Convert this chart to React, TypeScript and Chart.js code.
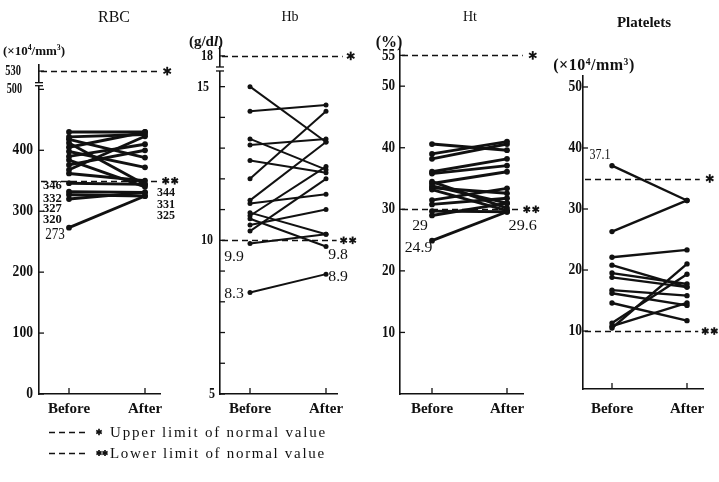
import React, { useEffect, useRef } from 'react';
import { Chart, registerables } from 'chart.js';

Chart.register(...registerables);

// ---------------- data ----------------
const phases = ['Before', 'After'];

const rbcBefore = [430, 422, 418, 412, 405, 398, 390, 384, 376, 368, 362, 346, 332, 327, 320, 273];
const rbcAfter = [430, 426, 388, 344, 430, 372, 410, 340, 400, 423, 350, 344, 331, 325, 331, 325];
const rbcTicks = [0, 100, 200, 300, 400, 500, 530];
const rbcNormal = [530, 350];

const hbBefore = [15.0, 14.2, 13.3, 13.1, 12.6, 12.0, 11.3, 11.2, 10.9, 10.8, 10.7, 10.5, 10.3, 9.9, 8.3];
const hbAfter = [13.2, 14.4, 12.3, 13.3, 12.2, 14.2, 13.2, 11.5, 10.2, 12.4, 9.8, 11.0, 12.0, 10.2, 8.9];
const hbTicks = [5, 10, 15, 18];
const hbMinorTicks = [6, 7, 8, 9, 11, 12, 13, 14];
const hbNormal = [18, 10];

const htBefore = [40.6, 39.0, 38.2, 36.1, 35.8, 34.5, 34.2, 33.8, 33.5, 33.2, 31.5, 30.8, 29.7, 29.0, 24.9];
const htAfter = [39.6, 41.0, 40.6, 38.2, 37.1, 30.2, 36.1, 31.0, 32.6, 29.8, 33.4, 31.8, 29.6, 31.0, 29.6];
const htTicks = [10, 20, 30, 40, 50, 55];
const htNormal = [55, 30];

const pltBefore = [37.1, 26.3, 22.1, 20.8, 19.5, 18.8, 16.7, 16.2, 14.6, 11.3, 10.5, 10.8];
const pltAfter = [31.4, 31.4, 23.3, 17.2, 17.7, 17.2, 15.8, 14.2, 11.7, 19.3, 21.0, 14.6];
const pltTicks = [10, 20, 30, 40, 50];
const pltNormal = [35, 10];

// ---------------- helpers ----------------
const ident = (v: number) => v;
// Hb axis is broken above 15 (18 is drawn just above 15)
const hbAxis = (v: number) => (v <= 15 ? v : 15 + (v - 15) / 3);

const SERIF = '"Liberation Serif", "Times New Roman", serif';
const INK = '#111';

interface Note { text: string; x: number; y: number; align: CanvasTextAlign; font: string; sx: number }
interface Limit { value: number; end: number; stars: number; dx: number }
interface TickStyle { gap?: number; font?: string; sx?: number }
interface PanelDef {
  left: number; width: number;
  axisPx: number; beforePx: number; afterPx: number; rightPx: number;
  top: number; bottom: number;
  yMin: number; yMax: number;
  before: number[]; after: number[];
  map: (v: number) => number;
  ticks: number[]; minor: number[];
  tickFont: string; tickSx: number; tickGap: number; tickOverride?: Record<number, TickStyle>;
  limits: Limit[];
  notes: Note[];
  breakMarks?: [number, number];
  lineWidth: number;
  pointRadius: number;
}

function drawText(ctx: CanvasRenderingContext2D, s: string, x: number, y: number, align: CanvasTextAlign, font: string, sx: number) {
  ctx.save();
  ctx.translate(x, y);
  ctx.scale(sx, 1);
  ctx.font = font;
  ctx.textAlign = align;
  ctx.textBaseline = 'middle';
  ctx.fillStyle = INK;
  ctx.fillText(s, 0, 0);
  ctx.restore();
}

function drawStar(ctx: CanvasRenderingContext2D, cx: number, cy: number, r: number) {
  ctx.save();
  ctx.setLineDash([]);
  ctx.strokeStyle = INK;
  ctx.lineWidth = 1.9;
  [90, 30, 150].forEach((deg) => {
    const a = (deg * Math.PI) / 180;
    ctx.beginPath();
    ctx.moveTo(cx - r * Math.cos(a), cy - r * Math.sin(a));
    ctx.lineTo(cx + r * Math.cos(a), cy + r * Math.sin(a));
    ctx.stroke();
  });
  ctx.restore();
}

function makeDeco(def: PanelDef) {
  return {
    id: 'deco',
    beforeDatasetsDraw(chart: any) {
      const { ctx, chartArea } = chart;
      const x = chart.scales.x;
      const y = chart.scales.y;
      ctx.save();
      ctx.strokeStyle = INK;
      ctx.lineWidth = 1.5;
      ctx.setLineDash([6, 4]);
      def.limits.forEach((l) => {
        const py = Math.round(y.getPixelForValue(def.map(l.value))) + 0.5;
        ctx.beginPath();
        ctx.moveTo(chartArea.left + 2, py);
        ctx.lineTo(x.getPixelForValue(l.end), py);
        ctx.stroke();
      });
      ctx.restore();
    },
    afterDraw(chart: any) {
      const { ctx, chartArea } = chart;
      const x = chart.scales.x;
      const y = chart.scales.y;
      ctx.save();
      ctx.strokeStyle = INK;
      ctx.lineWidth = 1.3;
      // y tick marks
      [...def.ticks, ...def.minor].forEach((v) => {
        const py = y.getPixelForValue(def.map(v));
        ctx.beginPath();
        ctx.moveTo(chartArea.left - 1, py);
        ctx.lineTo(chartArea.left + 5, py);
        ctx.stroke();
      });
      // y tick labels
      def.ticks.forEach((v) => {
        const py = y.getPixelForValue(def.map(v));
        const o = (def.tickOverride && def.tickOverride[v]) || {};
        const gap = o.gap !== undefined ? o.gap : def.tickGap;
        drawText(ctx, String(v), chartArea.left - gap, py, 'right', o.font || def.tickFont, o.sx || def.tickSx);
      });
      // x tick marks and labels
      phases.forEach((p, i) => {
        const px = x.getPixelForValue(i);
        ctx.beginPath();
        ctx.moveTo(px, chartArea.bottom);
        ctx.lineTo(px, chartArea.bottom - 6);
        ctx.stroke();
        drawText(ctx, p, px, 409, 'center', `bold 15px ${SERIF}`, 1);
      });
      // stars at end of normal-limit lines
      def.limits.forEach((l) => {
        const py = y.getPixelForValue(def.map(l.value));
        const ex = x.getPixelForValue(l.end);
        for (let k = 0; k < l.stars; k++) drawStar(ctx, ex + l.dx + k * 9, py, l.stars === 1 ? 4.3 : 3.8);
      });
      // annotations
      def.notes.forEach((n) => {
        drawText(ctx, n.text, x.getPixelForValue(n.x), y.getPixelForValue(def.map(n.y)), n.align, n.font, n.sx);
      });
      // axis break marks
      if (def.breakMarks) {
        const a = y.getPixelForValue(def.breakMarks[0]);
        const b = y.getPixelForValue(def.breakMarks[1]);
        ctx.fillStyle = '#fff';
        ctx.fillRect(chartArea.left - 4, a, 8, b - a);
        ctx.lineWidth = 1.3;
        [a, b].forEach((py) => {
          ctx.beginPath();
          ctx.moveTo(chartArea.left - 4, py);
          ctx.lineTo(chartArea.left + 4, py);
          ctx.stroke();
        });
      }
      ctx.restore();
    },
  };
}

function buildConfig(def: PanelDef): any {
  const unit = def.afterPx - def.beforePx;
  const xMin = (def.axisPx - def.beforePx) / unit;
  const xMax = (def.rightPx - def.beforePx) / unit;
  const border = { display: true, color: INK, width: 1.6 };
  return {
    type: 'line',
    data: {
      datasets: def.before.map((b, i) => ({
        data: [
          { x: 0, y: def.map(b) },
          { x: 1, y: def.map(def.after[i]) },
        ],
        borderColor: INK,
        backgroundColor: INK,
        borderWidth: def.lineWidth,
        pointRadius: def.pointRadius,
        pointBorderWidth: 0,
        pointBackgroundColor: INK,
        tension: 0,
      })),
    },
    options: {
      animation: false,
      responsive: false,
      devicePixelRatio: 1,
      layout: {
        padding: {
          left: 0,
          right: def.left + def.width - def.rightPx,
          top: def.top,
          bottom: 482 - def.bottom - 30,
        },
      },
      plugins: { legend: { display: false }, tooltip: { enabled: false } },
      scales: {
        x: {
          type: 'linear', min: xMin, max: xMax,
          ticks: { display: false }, grid: { display: false, drawTicks: false }, border,
          afterFit: (s: any) => { s.height = 30; },
        },
        y: {
          type: 'linear', min: def.yMin, max: def.yMax,
          ticks: { display: false }, grid: { display: false, drawTicks: false }, border,
          afterFit: (s: any) => { s.width = def.axisPx - def.left; },
        },
      },
    },
    plugins: [makeDeco(def)],
  };
}

// ---------------- panels ----------------
const smallBold = `bold 12px ${SERIF}`;

const rbcDef: PanelDef = {
  left: 0, width: 185, axisPx: 39, beforePx: 69, afterPx: 145, rightPx: 160,
  top: 65, bottom: 394, yMin: 0, yMax: 540,
  before: rbcBefore, after: rbcAfter, map: ident,
  ticks: rbcTicks, minor: [],
  tickFont: `bold 16px ${SERIF}`, tickSx: 0.85, tickGap: 6,
  tickOverride: {
    500: { gap: 17, font: `bold 15px ${SERIF}`, sx: 0.68 },
    530: { gap: 18, font: `bold 15px ${SERIF}`, sx: 0.7 },
  },
  limits: [
    { value: rbcNormal[0], end: 1.2, stars: 1, dx: 7 },
    { value: rbcNormal[1], end: 1.18, stars: 2, dx: 7 },
  ],
  notes: [
    { text: '346', x: -0.095, y: 341, align: 'right', font: smallBold, sx: 1.05 },
    { text: '332', x: -0.095, y: 321, align: 'right', font: smallBold, sx: 1.05 },
    { text: '327', x: -0.095, y: 303, align: 'right', font: smallBold, sx: 1.05 },
    { text: '320', x: -0.095, y: 285, align: 'right', font: smallBold, sx: 1.05 },
    { text: '273', x: -0.055, y: 261, align: 'right', font: `16px ${SERIF}`, sx: 0.82 },
    { text: '344', x: 1.158, y: 329.5, align: 'left', font: smallBold, sx: 1.0 },
    { text: '331', x: 1.158, y: 310, align: 'left', font: smallBold, sx: 1.0 },
    { text: '325', x: 1.158, y: 292, align: 'left', font: smallBold, sx: 1.0 },
  ],
  breakMarks: [511, 506],
  lineWidth: 2.9,
  pointRadius: 2.9,
};

const hbDef: PanelDef = {
  left: 185, width: 180, axisPx: 220, beforePx: 250, afterPx: 326, rightPx: 337,
  top: 47, bottom: 394, yMin: 5, yMax: 16.29,
  before: hbBefore, after: hbAfter, map: hbAxis,
  ticks: hbTicks, minor: hbMinorTicks,
  tickFont: `bold 15px ${SERIF}`, tickSx: 0.8, tickGap: 7,
  tickOverride: { 15: { gap: 11 }, 5: { gap: 5 } },
  limits: [
    { value: hbNormal[0], end: 1.22, stars: 1, dx: 8 },
    { value: hbNormal[1], end: 1.14, stars: 2, dx: 7 },
  ],
  notes: [
    { text: '9.9', x: -0.34, y: 9.46, align: 'left', font: `15px ${SERIF}`, sx: 1.05 },
    { text: '8.3', x: -0.34, y: 8.25, align: 'left', font: `15px ${SERIF}`, sx: 1.05 },
    { text: '9.8', x: 1.03, y: 9.52, align: 'left', font: `15px ${SERIF}`, sx: 1.05 },
    { text: '8.9', x: 1.03, y: 8.81, align: 'left', font: `15px ${SERIF}`, sx: 1.05 },
  ],
  breakMarks: [15.64, 15.51],
  lineWidth: 2.0,
  pointRadius: 2.5,
};

const htDef: PanelDef = {
  left: 365, width: 180, axisPx: 400, beforePx: 432, afterPx: 507, rightPx: 523,
  top: 48, bottom: 394, yMin: 0, yMax: 56.2,
  before: htBefore, after: htAfter, map: ident,
  ticks: htTicks, minor: [],
  tickFont: `bold 16px ${SERIF}`, tickSx: 0.82, tickGap: 5,
  limits: [
    { value: htNormal[0], end: 1.21, stars: 1, dx: 10 },
    { value: htNormal[1], end: 1.17, stars: 2, dx: 7 },
  ],
  notes: [
    { text: '29', x: -0.16, y: 27.2, align: 'center', font: `15px ${SERIF}`, sx: 1.05 },
    { text: '24.9', x: -0.18, y: 23.7, align: 'center', font: `15px ${SERIF}`, sx: 1.05 },
    { text: '29.6', x: 1.21, y: 27.2, align: 'center', font: `15px ${SERIF}`, sx: 1.08 },
  ],
  lineWidth: 2.9,
  pointRadius: 2.9,
};

const pltDef: PanelDef = {
  left: 545, width: 174, axisPx: 583, beforePx: 612, afterPx: 687, rightPx: 703,
  top: 76, bottom: 389, yMin: 0.5, yMax: 51.8,
  before: pltBefore, after: pltAfter, map: ident,
  ticks: pltTicks, minor: [],
  tickFont: `bold 16px ${SERIF}`, tickSx: 0.85, tickGap: 1,
  limits: [
    { value: pltNormal[0], end: 1.17, stars: 1, dx: 10 },
    { value: pltNormal[1], end: 1.15, stars: 2, dx: 7 },
  ],
  notes: [
    { text: '37.1', x: -0.16, y: 38.86, align: 'center', font: `15px ${SERIF}`, sx: 0.8 },
  ],
  lineWidth: 2.4,
  pointRadius: 2.7,
};

const panels = [rbcDef, hbDef, htDef, pltDef];

// ---------------- components ----------------
function Panel({ def }: { def: PanelDef }) {
  const ref = useRef<HTMLCanvasElement>(null);
  useEffect(() => {
    const c = ref.current;
    if (!c) return;
    const chart = new Chart(c, buildConfig(def));
    return () => chart.destroy();
  }, [def]);
  return (
    <canvas
      ref={ref}
      width={def.width}
      height={482}
      style={{ position: 'absolute', left: def.left, top: 0, width: def.width, height: 482 }}
    />
  );
}

function Label(props: { x: number; y: number; size: number; bold?: boolean; ls?: number; children: React.ReactNode }) {
  return (
    <div
      style={{
        position: 'absolute', left: props.x, top: props.y, transform: 'translate(-50%, -50%)',
        fontFamily: SERIF, fontSize: props.size, fontWeight: props.bold ? 700 : 400,
        letterSpacing: props.ls || 0, whiteSpace: 'nowrap', lineHeight: 1, color: INK,
      }}
    >
      {props.children}
    </div>
  );
}

const supStyle: React.CSSProperties = { fontSize: '0.6em', verticalAlign: '0.55em', lineHeight: 0 };

function SvgStar({ cx, cy, r }: { cx: number; cy: number; r: number }) {
  return (
    <g stroke={INK} strokeWidth={1.7}>
      {[90, 30, 150].map((deg) => {
        const a = (deg * Math.PI) / 180;
        return (
          <line key={deg} x1={cx - r * Math.cos(a)} y1={cy - r * Math.sin(a)} x2={cx + r * Math.cos(a)} y2={cy + r * Math.sin(a)} />
        );
      })}
    </g>
  );
}

export default function App() {
  return (
    <div style={{ position: 'absolute', left: 0, top: 0, width: 719, height: 482, background: '#fff', overflow: 'hidden' }}>
      {panels.map((d, i) => (
        <Panel key={i} def={d} />
      ))}
      <Label x={114} y={17} size={16}>RBC</Label>
      <Label x={290} y={17} size={14}>Hb</Label>
      <Label x={470} y={17} size={14}>Ht</Label>
      <Label x={644} y={22} size={15} bold>Platelets</Label>

      <Label x={34} y={50} size={13} bold>
        (×10<span style={supStyle}>4</span>/mm<span style={supStyle}>3</span>)
      </Label>
      <Label x={206} y={41} size={15} bold>(g/d<i>l</i>)</Label>
      <Label x={389} y={42} size={16} bold>(%)</Label>
      <Label x={594} y={65} size={16} bold ls={0.5}>
        (×10<span style={supStyle}>4</span>/mm<span style={supStyle}>3</span>)
      </Label>

      <svg style={{ position: 'absolute', left: 0, top: 420 }} width={400} height={50}>
        <line x1={49} y1={12.5} x2={87} y2={12.5} stroke={INK} strokeWidth={1.5} strokeDasharray="6 4" />
        <SvgStar cx={99} cy={12} r={3.2} />
        <text x={110} y={17} fontFamily={SERIF} fontSize={15} letterSpacing={1.8} fill={INK}>
          Upper limit of normal value
        </text>
        <line x1={49} y1={33.5} x2={87} y2={33.5} stroke={INK} strokeWidth={1.5} strokeDasharray="6 4" />
        <SvgStar cx={99} cy={33} r={3} />
        <SvgStar cx={105} cy={33} r={3} />
        <text x={110} y={38} fontFamily={SERIF} fontSize={15} letterSpacing={1.7} fill={INK}>
          Lower limit of normal value
        </text>
      </svg>
    </div>
  );
}
